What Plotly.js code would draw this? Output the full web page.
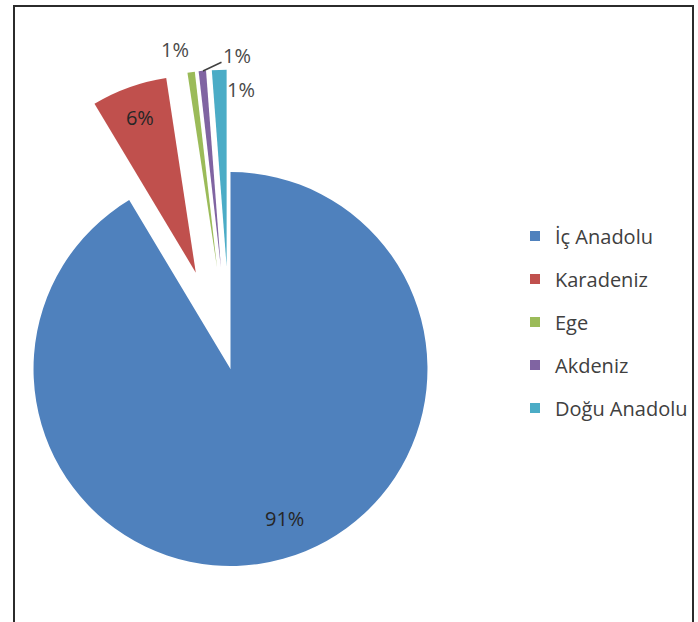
<!DOCTYPE html>
<html><head><meta charset="utf-8">
<script src="https://cdn.plot.ly/plotly-3.0.1.min.js"></script>
<style>
html,body{margin:0;padding:0;overflow:hidden;background:#fff;width:698px;height:622px}
#chart{position:absolute;left:-100px;top:0;width:798px;height:700px}
</style>
</head><body><div id="chart"></div>
<script>
// data
const regions = ['İç Anadolu', 'Karadeniz', 'Ege', 'Akdeniz', 'Doğu Anadolu'];
const shares = [91.4, 6.2, 0.6, 0.6, 1.2];

// styles
const sliceColors = ['#4F81BD', '#C0504D', '#9BBB59', '#8064A2', '#4BACC6'];
const slicePull = [0, 0.52, 0.52, 0.52, 0.52];
const labelPlace = ['none', 'inside', 'none', 'none', 'none'];
const FONT = 'Open Sans, Noto Sans, sans-serif';

const W = 798, H = 700, OFFX = 100;
const cx = 330.5, cy = 369, half = 299.4;
const total = shares.reduce((a, b) => a + b, 0);
const pct = v => Math.round(v / total * 100) + '%';

const pie = {
  type: 'pie',
  labels: regions,
  values: shares,
  sort: false,
  direction: 'clockwise',
  rotation: 0,
  pull: slicePull,
  marker: {colors: sliceColors, line: {width: 0}},
  texttemplate: '%{percent:.0%}',
  textposition: labelPlace,
  insidetextorientation: 'horizontal',
  textfont: {family: FONT, size: 20},
  insidetextfont: {family: FONT, size: 20, color: '#262626'},
  showlegend: false,
  hoverinfo: 'label+percent',
  domain: {
    x: [(cx - half) / W, (cx + half) / W],
    y: [1 - (cy + half) / H, 1 - (cy - half) / H]
  }
};

const legendTraces = regions.map((name, i) => ({
  type: 'scatter', mode: 'markers', x: [null], y: [null],
  name: name, legendgroup: 'g' + i, showlegend: true, hoverinfo: 'skip',
  marker: {symbol: 'square', size: 10, color: sliceColors[i], line: {width: 0}}
}));

// data labels placed like the reference (screen px of label centre / leader tip)
const px = (sx, sy) => ({x: (sx + OFFX) / W, y: 1 - sy / H});
const outFont = {family: FONT, size: 20, color: '#4a4a4a'};
const inFont = {family: FONT, size: 20, color: '#262626'};
const annots = [
  Object.assign(px(284, 518), {text: pct(shares[0]), showarrow: false, font: inFont}),
  Object.assign(px(175, 49), {text: pct(shares[2]), showarrow: false, font: outFont}),
  Object.assign(px(203, 71), {text: pct(shares[3]), showarrow: true, ax: 34, ay: -16,
    arrowhead: 0, arrowwidth: 1.5, arrowcolor: '#404040', standoff: 0, font: outFont}),
  Object.assign(px(241, 90), {text: pct(shares[4]), showarrow: false, font: outFont})
].map(a => Object.assign(a, {xref: 'paper', yref: 'paper', xanchor: 'center', yanchor: 'middle'}));

const layout = {
  width: W, height: H,
  margin: {l: 0, r: 0, t: 0, b: 0},
  paper_bgcolor: '#fff', plot_bgcolor: '#fff',
  xaxis: {visible: false}, yaxis: {visible: false},
  showlegend: true,
  legend: {
    x: 615 / W, xanchor: 'left', y: 1 - 216.5 / H, yanchor: 'top',
    traceorder: 'grouped', tracegroupgap: 14,
    font: {family: FONT, size: 20, color: '#404040'},
    bgcolor: 'rgba(0,0,0,0)'
  },
  annotations: annots,
  shapes: [{
    type: 'rect', xref: 'paper', yref: 'paper',
    x0: 114 / W, x1: 793 / W, y0: 0, y1: 1 - 6 / H,
    line: {color: '#2b2b2b', width: 2}
  }]
};

Plotly.newPlot('chart', [pie, ...legendTraces], layout, {staticPlot: true, displayModeBar: false});
</script>
</body></html>
